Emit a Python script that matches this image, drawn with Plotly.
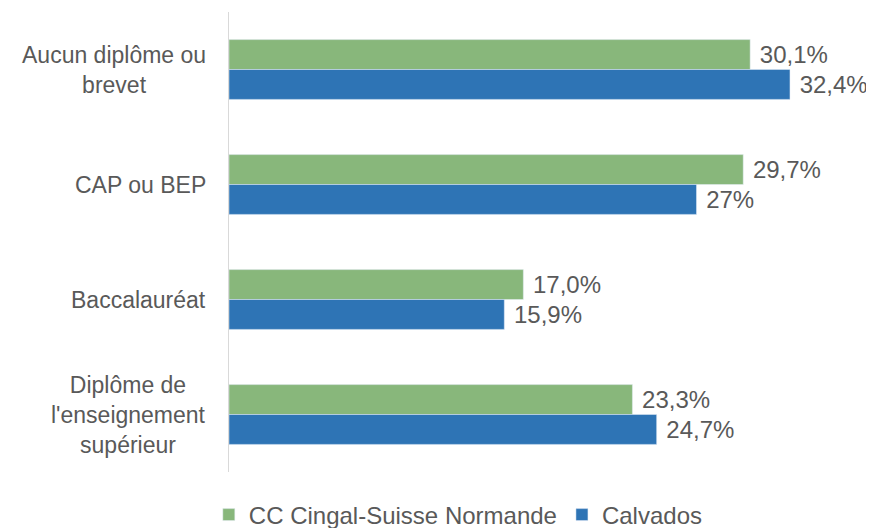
import plotly.graph_objects as go

# Data
categories = ["Aucun diplôme ou<br>brevet", "CAP ou BEP", "Baccalauréat",
              "Diplôme de<br>l'enseignement<br>supérieur"]
cc_values = [30.1, 29.7, 17.0, 23.3]
calvados_values = [32.4, 27.0, 15.9, 24.7]
cc_labels = ["30,1%", "29,7%", "17,0%", "23,3%"]
calvados_labels = ["32,4%", "27%", "15,9%", "24,7%"]

font_color = "#595959"
font_family = "Liberation Sans, Arial, sans-serif"
fsize = 23

fig = go.Figure()
fig.add_trace(go.Bar(
    y=categories, x=cc_values, orientation="h", name="CC Cingal-Suisse Normande",
    marker_color="#88B77B", text=[" " + t for t in cc_labels], textposition="outside",
    textfont=dict(size=24, color=font_color), cliponaxis=False,
))
fig.add_trace(go.Bar(
    y=categories, x=calvados_values, orientation="h", name="Calvados",
    marker_color="#2E74B5", text=[" " + t for t in calvados_labels], textposition="outside",
    textfont=dict(size=24, color=font_color), cliponaxis=False,
))

# Category labels: block right-aligned to the axis, lines centered
for c in categories:
    fig.add_annotation(x=-0.035, xref="paper", y=c, yref="y", text=c, showarrow=False,
                       xanchor="right", align="center",
                       font=dict(size=fsize, color=font_color, family=font_family))

# page body has an 8px margin, so the figure is sized to fit the window
fig.update_layout(
    width=866, height=520,
    margin=dict(l=221, r=39, t=4, b=56),
    plot_bgcolor="white", paper_bgcolor="white",
    barmode="group", bargap=0.48, bargroupgap=0,
    font=dict(family=font_family, size=fsize, color=font_color),
    showlegend=True,
    legend=dict(orientation="h", xref="container", x=0.52, xanchor="center",
                yref="container", y=0.025, yanchor="middle",
                font=dict(size=24, color=font_color), traceorder="normal"),
    uniformtext=dict(mode=False),
)
fig.update_xaxes(range=[0, 35], showgrid=False, zeroline=False, showticklabels=False,
                 showline=False)
fig.update_yaxes(autorange="reversed", showticklabels=False, showline=True,
                 linecolor="#D9D9D9", linewidth=1, ticks="", showgrid=False)

fig.write_html("out.html")
